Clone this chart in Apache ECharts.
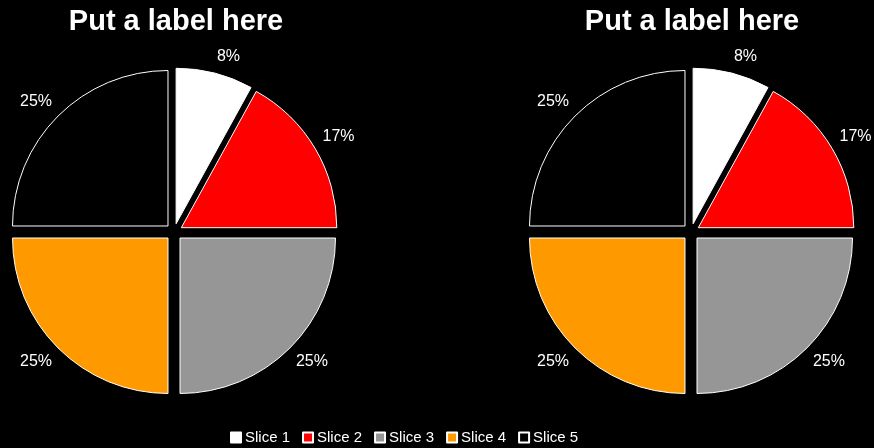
<!DOCTYPE html>
<html>
<head>
<meta charset="utf-8">
<script src="https://cdn.jsdelivr.net/npm/echarts@6/dist/echarts.min.js"></script>
<style>
  html, body { margin: 0; padding: 0; background: #000; }
  #chart { width: 874px; height: 448px; }
</style>
</head>
<body>
<div id="chart"></div>
<script>
// Slice names, shares (percent) and fill colours
const sliceNames = ['Slice 1', 'Slice 2', 'Slice 3', 'Slice 4', 'Slice 5'];
const leftValues = [8, 17, 25, 25, 25];
const rightValues = [8, 17, 25, 25, 25];
const sliceColors = ['#ffffff', '#ff0000', '#969696', '#ff9900', '#000000'];
const titleText = 'Put a label here';

const FONT = '"Liberation Sans", Arial, sans-serif';

function buildData(values) {
  return sliceNames.map((name, i) => {
    const style = { color: sliceColors[i], borderColor: '#ffffff', borderWidth: 1 };
    return {
      name: name,
      value: values[i],
      selected: true,
      itemStyle: style,
      select: { itemStyle: style }
    };
  });
}

// Push each outside label so its corner (not its middle) sits on the label ring
function cornerLabelLayout(params) {
  const lr = params.labelRect, r = params.rect;
  const labelMid = lr.y + lr.height / 2;
  const sectorMid = r.y + r.height / 2;
  return { dy: (labelMid < sectorMid ? -1 : 1) * lr.height / 2 };
}

function pieSeries(center, values) {
  return {
    type: 'pie',
    center: center,
    radius: 155.5,
    startAngle: 90,
    clockwise: true,
    selectedMode: 'multiple',
    selectedOffset: 8.5,
    avoidLabelOverlap: false,
    animation: false,
    emphasis: { disabled: true },
    label: {
      show: true,
      position: 'outside',
      color: '#ffffff',
      fontFamily: FONT,
      fontSize: 16,
      distanceToLabelLine: 0,
      formatter: p => Math.round(p.percent) + '%'
    },
    labelLine: { show: false, length: 8.5, length2: 0 },
    labelLayout: cornerLabelLayout,
    data: buildData(values)
  };
}

const chart = echarts.init(document.getElementById('chart'), null, { renderer: 'canvas' });
chart.setOption({
  backgroundColor: '#000000',
  animation: false,
  title: [
    { text: titleText, left: 171, top: 2, textAlign: 'center',
      textStyle: { color: '#ffffff', fontFamily: FONT, fontWeight: 'bold', fontSize: 29 } },
    { text: titleText, left: 687, top: 2, textAlign: 'center',
      textStyle: { color: '#ffffff', fontFamily: FONT, fontWeight: 'bold', fontSize: 29 } }
  ],
  legend: {
    data: sliceNames,
    left: 225,
    top: 425,
    itemWidth: 10,
    itemHeight: 10,
    itemGap: 12,
    icon: 'rect',
    selectedMode: false,
    textStyle: { color: '#ffffff', fontFamily: FONT, fontSize: 15, padding: [0, 0, 0, -1] }
  },
  series: [
    pieSeries([174, 232], leftValues),
    pieSeries([691, 232], rightValues)
  ]
});
</script>
</body>
</html>
